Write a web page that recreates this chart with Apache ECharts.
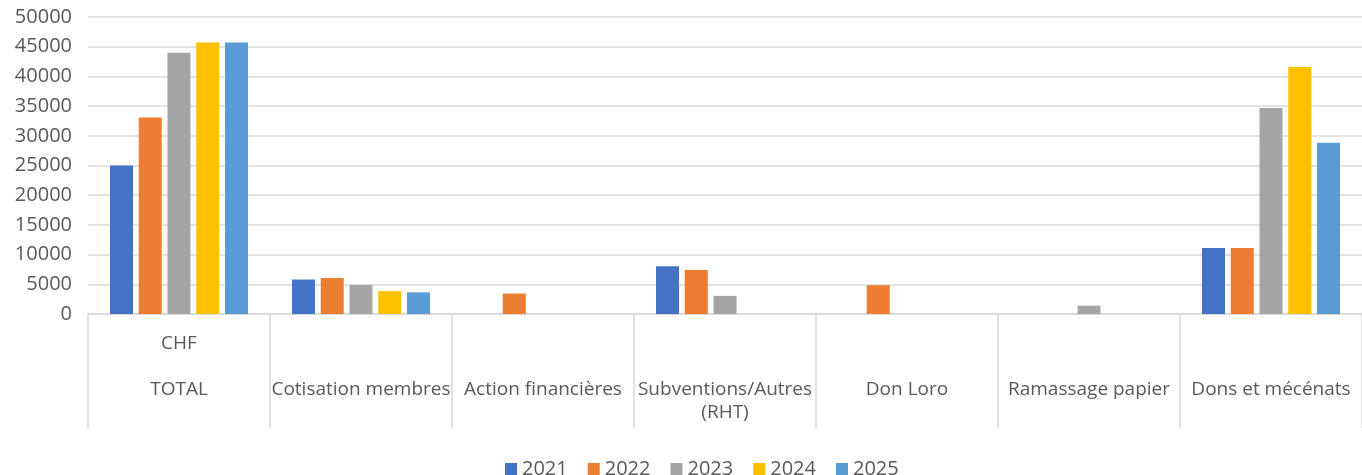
<!DOCTYPE html>
<html>
<head>
<meta charset="utf-8">
<script src="https://cdn.jsdelivr.net/npm/echarts@6/dist/echarts.min.js"></script>
<style>
  html, body { margin: 0; padding: 0; background: #fff; }
  #chart { width: 1362px; height: 475px; }
</style>
</head>
<body>
<div id="chart"></div>
<script>
// categories (first one carries the "CHF" header line above it)
const categories = [
  'CHF\n\nTOTAL',
  '\n\nCotisation membres',
  '\n\nAction financières',
  '\n\nSubventions/Autres\n(RHT)',
  '\n\nDon Loro',
  '\n\nRamassage papier',
  '\n\nDons et mécénats'
];
const years = ['2021', '2022', '2023', '2024', '2025'];

// values per year, one per category (null = no bar)
const v2021 = [25000, 5800, null, 8050, null, null, 11100];
const v2022 = [33100, 6050, 3450, 7400, 4850, null, 11100];
const v2023 = [44000, 4900, null, 3050, null, 1400, 34700];
const v2024 = [45700, 3850, null, null, null, null, 41600];
const v2025 = [45700, 3650, null, null, null, null, 28850];

const yTicks = { min: 0, max: 50000, step: 5000 };

const colors = ['#4472C4', '#ED7D31', '#A5A5A5', '#FFC000', '#5B9BD5'];
const font = 'Open Sans';

const chart = echarts.init(document.getElementById('chart'));

const seriesData = [v2021, v2022, v2023, v2024, v2025];

chart.setOption({
  animation: false,
  color: colors,
  textStyle: { fontFamily: font },
  grid: { left: 88, width: 1281, top: 17, bottom: 161, containLabel: false },
  legend: {
    top: 454,
    left: 500,
    itemWidth: 12,
    itemHeight: 12,
    itemGap: 20,
    icon: 'rect',
    textStyle: { color: '#595959', fontSize: 20, fontFamily: font },
    data: years
  },
  xAxis: {
    type: 'category',
    data: categories,
    axisLine: { show: true, lineStyle: { color: '#d9d9d9', width: 1.5 } },
    axisTick: { show: true, length: 114, lineStyle: { color: '#d9d9d9', width: 1.5 } },
    axisLabel: {
      color: '#595959',
      fontSize: 19,
      fontFamily: font,
      lineHeight: 23,
      margin: 18,
      interval: 0
    }
  },
  yAxis: {
    type: 'value',
    min: yTicks.min,
    max: yTicks.max,
    interval: yTicks.step,
    axisLine: { show: false },
    axisTick: { show: false },
    splitLine: { lineStyle: { color: '#d9d9d9', width: 1.5 } },
    axisLabel: {
      color: '#595959',
      fontSize: 20,
      fontFamily: font,
      margin: 16,
      formatter: (v) => String(v)
    }
  },
  series: years.map((y, i) => ({
    name: y,
    type: 'bar',
    data: seriesData[i],
    barWidth: 23,
    barGap: '25%'
  }))
});
</script>
</body>
</html>
